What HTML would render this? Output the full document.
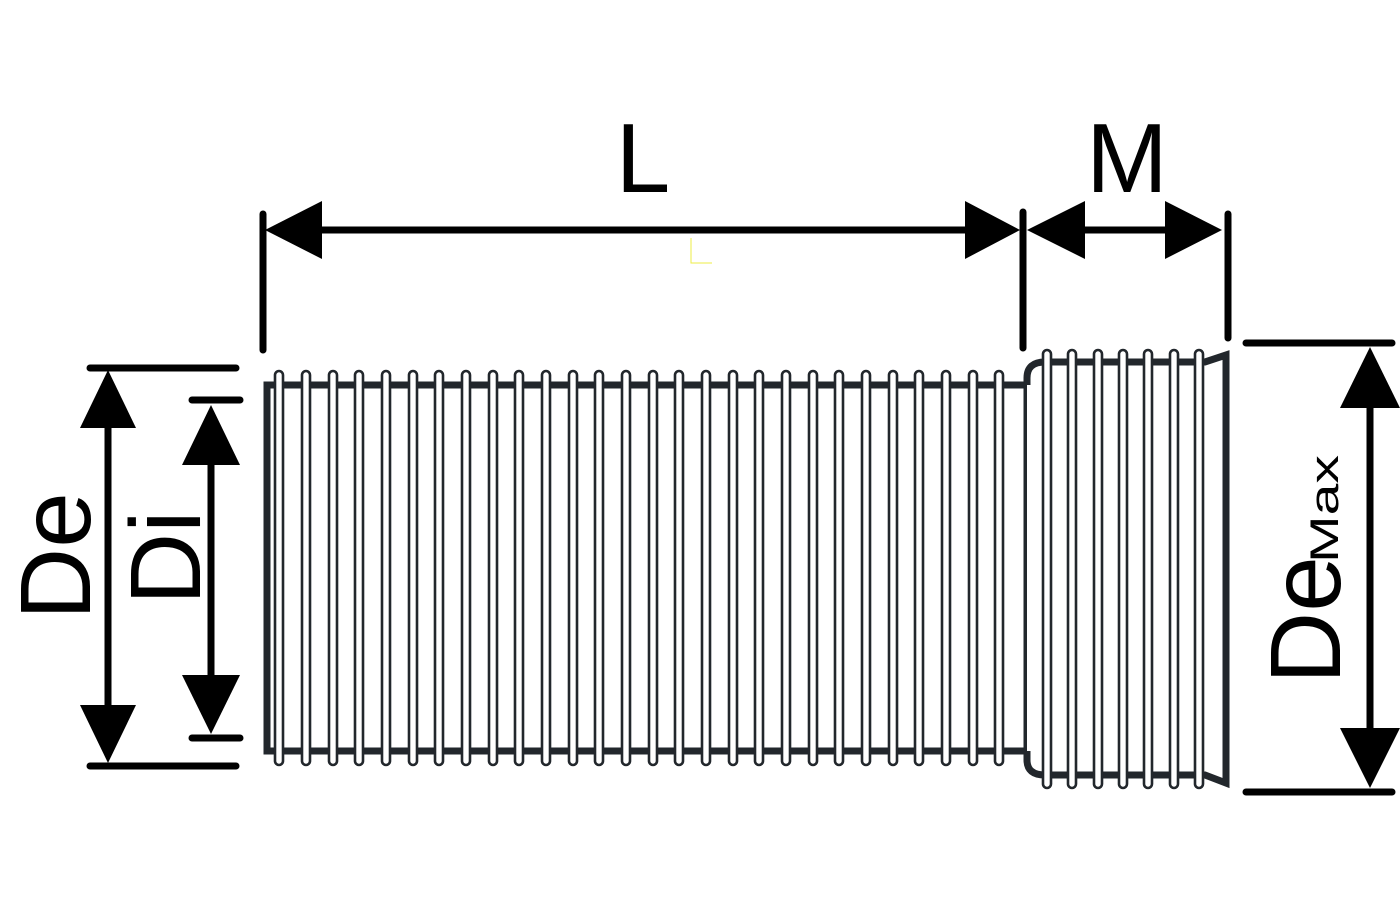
<!DOCTYPE html>
<html><head><style>html,body{margin:0;padding:0;background:#fff}svg{display:block}</style></head>
<body>
<svg width="1400" height="900" viewBox="0 0 1400 900" xmlns="http://www.w3.org/2000/svg" font-family="Liberation Sans, Arial, sans-serif">
<rect width="1400" height="900" fill="#fff"/>
<!-- main pipe body -->
<rect x="267" y="385" width="760" height="366" fill="#fff" stroke="#22272c" stroke-width="7"/>
<!-- socket -->
<path d="M1027,385 L1027,378 Q1027,362 1045,362 L1205,362 L1226,355 L1226,783 L1205,775 L1045,775 Q1027,775 1027,760 L1027,751" fill="#fff" stroke="#22272c" stroke-width="7"/>
<g fill="#fff" stroke="#22272c" stroke-width="2.6">
<rect x="275" y="371" width="8" height="394" rx="4"/><rect x="302" y="371" width="8" height="394" rx="4"/><rect x="329" y="371" width="8" height="394" rx="4"/><rect x="355" y="371" width="8" height="394" rx="4"/><rect x="382" y="371" width="8" height="394" rx="4"/><rect x="409" y="371" width="8" height="394" rx="4"/><rect x="435" y="371" width="8" height="394" rx="4"/><rect x="462" y="371" width="8" height="394" rx="4"/><rect x="489" y="371" width="8" height="394" rx="4"/><rect x="515" y="371" width="8" height="394" rx="4"/><rect x="542" y="371" width="8" height="394" rx="4"/><rect x="569" y="371" width="8" height="394" rx="4"/><rect x="595" y="371" width="8" height="394" rx="4"/><rect x="622" y="371" width="8" height="394" rx="4"/><rect x="649" y="371" width="8" height="394" rx="4"/><rect x="675" y="371" width="8" height="394" rx="4"/><rect x="702" y="371" width="8" height="394" rx="4"/><rect x="729" y="371" width="8" height="394" rx="4"/><rect x="755" y="371" width="8" height="394" rx="4"/><rect x="782" y="371" width="8" height="394" rx="4"/><rect x="809" y="371" width="8" height="394" rx="4"/><rect x="835" y="371" width="8" height="394" rx="4"/><rect x="862" y="371" width="8" height="394" rx="4"/><rect x="889" y="371" width="8" height="394" rx="4"/><rect x="915" y="371" width="8" height="394" rx="4"/><rect x="942" y="371" width="8" height="394" rx="4"/><rect x="969" y="371" width="8" height="394" rx="4"/><rect x="995" y="371" width="8" height="394" rx="4"/>
<rect x="1043" y="350" width="8" height="438" rx="4"/><rect x="1068" y="350" width="8" height="438" rx="4"/><rect x="1094" y="350" width="8" height="438" rx="4"/><rect x="1119" y="350" width="8" height="438" rx="4"/><rect x="1144" y="350" width="8" height="438" rx="4"/><rect x="1170" y="350" width="8" height="438" rx="4"/><rect x="1195" y="350" width="8" height="438" rx="4"/>
</g>
<g stroke="#000" stroke-width="7" stroke-linecap="round">
<line x1="263" y1="214" x2="263" y2="350"/><line x1="1023" y1="212" x2="1023" y2="348"/><line x1="1228" y1="214" x2="1228" y2="338"/>
<line x1="290" y1="230" x2="1000" y2="230"/><line x1="1050" y1="230" x2="1200" y2="230"/>
<line x1="90" y1="368" x2="236" y2="368"/><line x1="90" y1="766" x2="236" y2="766"/>
<line x1="108" y1="400" x2="108" y2="740"/>
<line x1="192" y1="400" x2="240" y2="400"/><line x1="192" y1="738" x2="240" y2="738"/>
<line x1="211" y1="430" x2="211" y2="710"/>
<line x1="1246" y1="343" x2="1392" y2="343"/><line x1="1246" y1="792" x2="1392" y2="792"/>
<line x1="1370" y1="380" x2="1370" y2="760"/>
</g>
<g fill="#000">
<polygon points="265,230 322,201 322,259"/><polygon points="1020,230 965,201 965,259"/>
<polygon points="1027,230 1085,201 1085,259"/><polygon points="1222,230 1165,201 1165,259"/>
<polygon points="108,370 80,428 136,428"/><polygon points="108,763 80,705 136,705"/>
<polygon points="211,405 182,465 240,465"/><polygon points="211,734 182,675 240,675"/>
<polygon points="1370,347 1340,408 1400,408"/><polygon points="1370,788 1340,728 1400,728"/>
</g>
<path d="M691,238 V263 H712" fill="none" stroke="#ee4" stroke-width="1"/>
<g fill="#000">
<text x="643" y="192" font-size="98" text-anchor="middle">L</text>
<text x="1127" y="192" font-size="98" text-anchor="middle">M</text>
<text transform="translate(90,620) rotate(-90)" font-size="100">De</text>
<text transform="translate(200,605) rotate(-90)" font-size="100">Di</text>
<text transform="translate(1340,684) rotate(-90)" font-size="100">De</text>
<text transform="translate(1338,563) rotate(-90)" font-size="40" textLength="108" lengthAdjust="spacingAndGlyphs">Max</text>
</g>
</svg>
</body></html>
